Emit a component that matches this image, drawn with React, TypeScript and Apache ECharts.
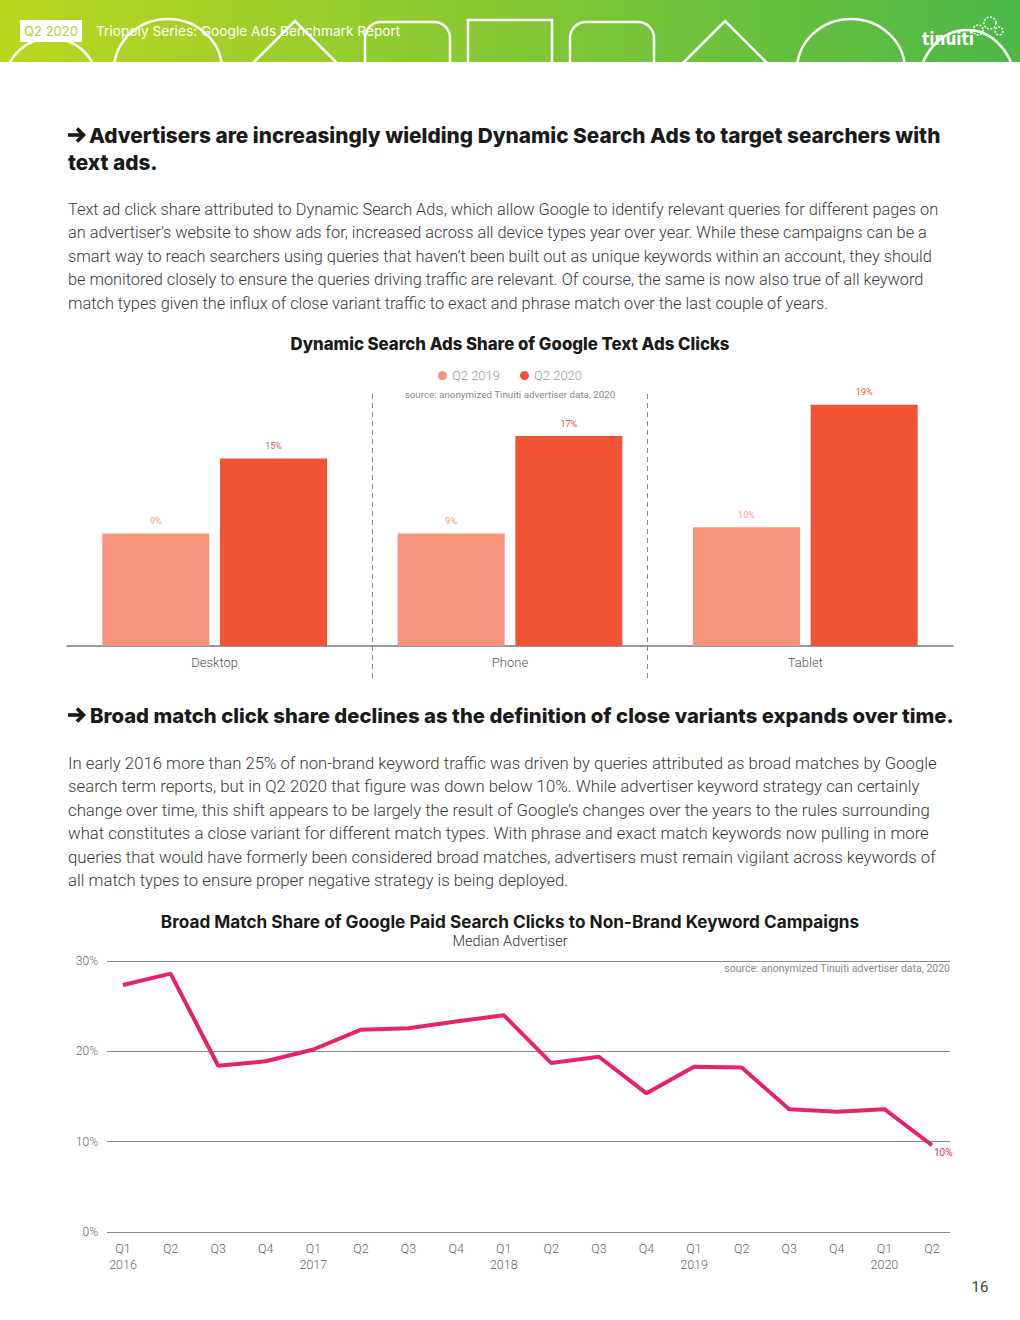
import React, { useEffect, useRef } from "react";
import * as echarts from "echarts";

const barCategories = ["Desktop", "Phone", "Tablet"];
const seriesQ22019 = [9.0, 9.0, 9.5];
const seriesQ22020 = [15.0, 16.8, 19.3];

const quarterLabels = [
  "Q1\n2016", "Q2", "Q3", "Q4",
  "Q1\n2017", "Q2", "Q3", "Q4",
  "Q1\n2018", "Q2", "Q3", "Q4",
  "Q1\n2019", "Q2", "Q3", "Q4",
  "Q1\n2020", "Q2",
];
const broadMatchShare = [
  27.35, 28.6, 18.4, 18.9, 20.2, 22.4, 22.55, 23.3, 24.0,
  18.7, 19.4, 15.35, 18.3, 18.2, 13.6, 13.3, 13.6, 9.6,
];

const para1 = [
  "Text ad click share attributed to Dynamic Search Ads, which allow Google to identify relevant queries for different pages on",
  "an advertiser’s website to show ads for, increased across all device types year over year. While these campaigns can be a",
  "smart way to reach searchers using queries that haven’t been built out as unique keywords within an account, they should",
  "be monitored closely to ensure the queries driving traffic are relevant. Of course, the same is now also true of all keyword",
  "match types given the influx of close variant traffic to exact and phrase match over the last couple of years.",
];
const para2 = [
  "In early 2016 more than 25% of non-brand keyword traffic was driven by queries attributed as broad matches by Google",
  "search term reports, but in Q2 2020 that figure was down below 10%. While advertiser keyword strategy can certainly",
  "change over time, this shift appears to be largely the result of Google’s changes over the years to the rules surrounding",
  "what constitutes a close variant for different match types. With phrase and exact match keywords now pulling in more",
  "queries that would have formerly been considered broad matches, advertisers must remain vigilant across keywords of",
  "all match types to ensure proper negative strategy is being deployed.",
];

const HEAD_FONT = "Inter, 'Noto Sans', sans-serif";
const BODY_FONT = "Roboto, 'Noto Sans', sans-serif";

function arrowGlyph(x: number, cy: number): any[] {
  const st = { stroke: "#1a1a1a", lineWidth: 3.6, fill: "none", lineCap: "butt", lineJoin: "miter" };
  return [
    { type: "line", shape: { x1: x, y1: cy, x2: x + 15, y2: cy }, style: st },
    { type: "polyline", shape: { points: [[x + 9, cy - 6.5], [x + 15.5, cy], [x + 9, cy + 6.5]] }, style: st },
  ];
}

export default function App() {
  const ref = useRef<HTMLDivElement>(null);
  useEffect(() => {
    const chart = echarts.init(ref.current!, null, { renderer: "svg" });
    const white = "#ffffff";
    const outline = { fill: "none", stroke: white, lineWidth: 2.5 };
    const graphic: any[] = [
      {
        type: "rect", z: 0,
        shape: { x: 0, y: 0, width: 1020, height: 62 },
        style: {
          fill: {
            type: "linear", x: 0, y: 0, x2: 1, y2: 0,
            colorStops: [
              { offset: 0, color: "#BBD71F" },
              { offset: 1, color: "#4CB848" },
            ],
          },
        },
      },
      { type: "ellipse", z: 1, shape: { cx: 51, cy: 80, rx: 45, ry: 42 }, style: outline },
      { type: "ellipse", z: 1, shape: { cx: 168, cy: 70, rx: 54, ry: 51 }, style: outline },
      { type: "polyline", z: 1, shape: { points: [[248, 68], [295, 21], [342, 68]] }, style: outline },
      { type: "rect", z: 1, shape: { x: 365, y: 22, width: 85, height: 90, r: 16 }, style: outline },
      { type: "rect", z: 1, shape: { x: 468, y: 20, width: 84, height: 90 }, style: outline },
      { type: "rect", z: 1, shape: { x: 570, y: 22, width: 84, height: 90, r: 16 }, style: outline },
      { type: "polyline", z: 1, shape: { points: [[678, 68], [725, 21], [772, 68]] }, style: outline },
      { type: "ellipse", z: 1, shape: { cx: 851, cy: 70, rx: 54, ry: 51 }, style: outline },
      { type: "ellipse", z: 1, shape: { cx: 967, cy: 85, rx: 48, ry: 55 }, style: outline },
      { type: "rect", z: 2, shape: { x: 0, y: 62, width: 1020, height: 50 }, style: { fill: white } },
      { type: "rect", z: 3, shape: { x: 20, y: 20, width: 62, height: 22 }, style: { fill: white } },
      {
        type: "text", z: 4, x: 51, y: 31,
        style: { text: "Q2 2020", fill: "#B3D22C", fontSize: 13, fontFamily: HEAD_FONT, align: "center", verticalAlign: "middle" },
      },
      {
        type: "text", z: 4, x: 96, y: 31,
        style: { text: "Triopoly Series: Google Ads Benchmark Report", fill: white, fontSize: 13.7, fontFamily: HEAD_FONT, align: "left", verticalAlign: "middle" },
      },
      {
        type: "text", z: 4, x: 948, y: 39,
        style: { text: "tinuiti", fill: white, fontSize: 17, fontWeight: 900, fontFamily: "'DejaVu Sans Condensed', 'DejaVu Sans', sans-serif", align: "center", verticalAlign: "middle" },
      },
      { type: "circle", z: 4, shape: { cx: 978, cy: 30, r: 5 }, style: { fill: "none", stroke: white, lineWidth: 1.5, lineDash: [2, 1.5] } },
      { type: "circle", z: 4, shape: { cx: 990, cy: 23, r: 6 }, style: { fill: "none", stroke: white, lineWidth: 1.5, lineDash: [2, 1.5] } },
      { type: "circle", z: 4, shape: { cx: 999, cy: 31, r: 4 }, style: { fill: "none", stroke: white, lineWidth: 1.5, lineDash: [2, 1.5] } },

      // heading 1
      ...arrowGlyph(68, 135),
      {
        type: "text", x: 89, y: 135,
        style: { text: "Advertisers are increasingly wielding Dynamic Search Ads to target searchers with", fill: "#1a1a1a", fontSize: 20.8, fontWeight: 800, fontFamily: HEAD_FONT, align: "left", verticalAlign: "middle" },
      },
      {
        type: "text", x: 68, y: 162,
        style: { text: "text ads.", fill: "#1a1a1a", fontSize: 20.8, fontWeight: 800, fontFamily: HEAD_FONT, align: "left", verticalAlign: "middle" },
      },
      {
        type: "text", x: 68, y: 209 - 11.75,
        style: { text: para1.join("\n"), fill: "#3a3a3a", fontSize: 16.33, fontWeight: 300, lineHeight: 23.5, fontFamily: BODY_FONT, align: "left", verticalAlign: "top" },
      },

      // bar chart decorations
      {
        type: "text", x: 510, y: 344,
        style: { text: "Dynamic Search Ads Share of Google Text Ads Clicks", fill: "#1a1a1a", fontSize: 16.8, fontWeight: 800, fontFamily: HEAD_FONT, align: "center", verticalAlign: "middle" },
      },
      {
        type: "text", x: 510, y: 394,
        style: { text: "source: anonymized Tinuiti advertiser data, 2020", fill: "#888", fontSize: 9.8, fontFamily: BODY_FONT, align: "center", verticalAlign: "middle" },
      },
      { type: "line", shape: { x1: 372.5, y1: 394, x2: 372.5, y2: 679 }, style: { stroke: "#888", lineWidth: 1, lineDash: [5, 4] } },
      { type: "line", shape: { x1: 647.5, y1: 394, x2: 647.5, y2: 679 }, style: { stroke: "#888", lineWidth: 1, lineDash: [5, 4] } },

      // heading 2
      ...arrowGlyph(68, 715),
      {
        type: "text", x: 90, y: 715,
        style: { text: "Broad match click share declines as the definition of close variants expands over time.", fill: "#1a1a1a", fontSize: 20.3, fontWeight: 800, fontFamily: HEAD_FONT, align: "left", verticalAlign: "middle" },
      },
      {
        type: "text", x: 68, y: 763 - 11.7,
        style: { text: para2.join("\n"), fill: "#3a3a3a", fontSize: 16.75, fontWeight: 300, lineHeight: 23.4, fontFamily: BODY_FONT, align: "left", verticalAlign: "top" },
      },

      // line chart decorations
      {
        type: "text", x: 510, y: 921,
        style: { text: "Broad Match Share of Google Paid Search Clicks to Non-Brand Keyword Campaigns", fill: "#1a1a1a", fontSize: 17.2, fontWeight: 700, fontFamily: HEAD_FONT, align: "center", verticalAlign: "middle" },
      },
      {
        type: "text", x: 510, y: 941,
        style: { text: "Median Advertiser", fill: "#333", fontSize: 14.5, fontWeight: 300, fontFamily: BODY_FONT, align: "center", verticalAlign: "middle" },
      },
      {
        type: "text", x: 950, y: 968,
        style: { text: "source: anonymized Tinuiti advertiser data, 2020", fill: "#888", fontSize: 10.5, fontFamily: BODY_FONT, align: "right", verticalAlign: "middle" },
      },
      {
        type: "text", x: 980, y: 1287,
        style: { text: "16", fill: "#444", fontSize: 15, fontFamily: BODY_FONT, align: "center", verticalAlign: "middle" },
      },
    ];

    const roundPct = (p: any) => Math.round(Number(p.value)) + "%";

    chart.setOption({
      animation: false,
      textStyle: { fontFamily: BODY_FONT },
      graphic,
      legend: {
        top: 364,
        left: "center",
        icon: "circle",
        itemWidth: 9,
        itemHeight: 9,
        itemGap: 20,
        textStyle: { color: "#999", fontSize: 13, fontFamily: BODY_FONT, fontWeight: 300 },
        data: ["Q2 2019", "Q2 2020"],
      },
      grid: [
        { left: 67, right: 67, top: 396, bottom: 1320 - 646 },
        { left: 107, right: 70, top: 961, bottom: 1320 - 1232 },
        { left: 123, right: 88, top: 961, bottom: 1320 - 1232 },
      ],
      xAxis: [
        {
          gridIndex: 0,
          type: "category",
          data: barCategories,
          axisLine: { lineStyle: { color: "#777", width: 1.5 } },
          axisTick: { show: false },
          axisLabel: { color: "#555", fontSize: 13, margin: 10, fontWeight: 300 },
        },
        { gridIndex: 1, type: "category", data: quarterLabels, show: false },
        {
          gridIndex: 2,
          type: "category",
          data: quarterLabels,
          boundaryGap: false,
          axisLine: { show: false },
          axisTick: { show: false },
          axisLabel: { color: "#666", fontSize: 12.5, lineHeight: 16, margin: 8, fontWeight: 300, interval: 0 },
        },
      ],
      yAxis: [
        { gridIndex: 0, type: "value", min: 0, max: 20, show: false, splitLine: { show: false } },
        {
          gridIndex: 1,
          type: "value",
          min: 0,
          max: 30,
          interval: 10,
          axisLine: { show: false },
          axisTick: { show: false },
          splitLine: { lineStyle: { color: "#8a8a8a", width: 1 } },
          axisLabel: { formatter: "{value}%", color: "#666", fontSize: 12, margin: 9, fontWeight: 300 },
        },
        { gridIndex: 2, type: "value", min: 0, max: 30, show: false, splitLine: { show: false } },
      ],
      series: [
        {
          name: "Q2 2019",
          type: "bar",
          xAxisIndex: 0,
          yAxisIndex: 0,
          data: seriesQ22019,
          barWidth: 107,
          barGap: "10%",
          itemStyle: { color: "#F7947E" },
          label: { show: true, position: "top", distance: 8, fontSize: 9, color: "#F49A85", formatter: roundPct },
        },
        {
          name: "Q2 2020",
          type: "bar",
          xAxisIndex: 0,
          yAxisIndex: 0,
          data: seriesQ22020,
          barWidth: 107,
          barGap: "10%",
          itemStyle: { color: "#F15434" },
          label: { show: true, position: "top", distance: 8, fontSize: 9, color: "#E8553A", formatter: roundPct },
        },
        {
          name: "Broad match share",
          type: "line",
          xAxisIndex: 2,
          yAxisIndex: 2,
          data: broadMatchShare,
          symbol: "none",
          lineStyle: { color: "#E8236B", width: 4 },
          itemStyle: { color: "#E8236B" },
          endLabel: { show: true, formatter: roundPct, color: "#E8236B", fontSize: 10, distance: 0, offset: [2, 7] },
        },
      ],
    });
    return () => chart.dispose();
  }, []);
  return (
    <div
      ref={ref}
      style={{ position: "absolute", left: 0, top: 0, width: 1020, height: 1320, background: "#fff" }}
    />
  );
}
